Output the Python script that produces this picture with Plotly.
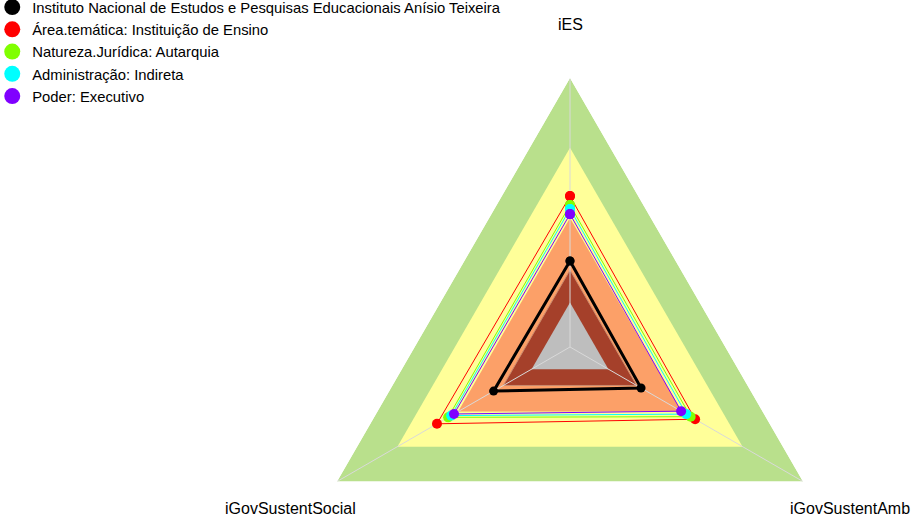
import math
import plotly.graph_objects as go

# Axes of the radar, counter-clockwise from the top
categories = ["iES", "iGovSustentSocial", "iGovSustentAmb"]

# Reference bands (outer edge of each level), from the centre outwards
band_levels = [0.165, 0.286, 0.48, 0.741, 1.0]
band_colors = ["#BEBEBE", "#A5402A", "#FCA068", "#FFFF99", "#B9E08C"]

# Series
series_names = [
    "Instituto Nacional de Estudos e Pesquisas Educacionais Anísio Teixeira",
    "Área.temática: Instituição de Ensino",
    "Natureza.Jurídica: Autarquia",
    "Administração: Indireta",
    "Poder: Executivo",
]
inep = [0.320, 0.328, 0.305]
area_tematica = [0.561, 0.571, 0.537]
natureza_juridica = [0.528, 0.523, 0.518]
administracao = [0.513, 0.510, 0.499]
poder = [0.494, 0.498, 0.477]
series_values = [inep, area_tematica, natureza_juridica, administracao, poder]
series_colors = ["#000000", "#FF0000", "#80FF00", "#00FFFF", "#8000FF"]
series_widths = [3, 1, 1, 1, 1]
series_marker = [9, 10, 10, 10, 10]

W, H = 912, 694
CX, CY, R = 570, 347, 269
LABEL_RADIUS = 1.2

fig = go.Figure()

closed_theta = categories + categories[:1]

# Filled bands, largest first
for lvl, col in sorted(zip(band_levels, band_colors), reverse=True):
    outline = dict(width=0, color=col)
    if col == "#A5402A":
        outline = dict(width=1, color="#C98A6E")
    fig.add_trace(go.Scatterpolar(
        r=[lvl] * 4, theta=closed_theta, mode="lines", fill="toself",
        fillcolor=col, line=outline, hoverinfo="skip", showlegend=False,
    ))

# Spokes from the centre to each axis end
for cat in categories:
    fig.add_trace(go.Scatterpolar(
        r=[0, max(band_levels)], theta=[cat, cat], mode="lines",
        line=dict(color="#D9D9D9", width=1), hoverinfo="skip", showlegend=False,
    ))

# Series polygons with their points
for name, vals, col, lw, ms in zip(series_names, series_values, series_colors,
                                   series_widths, series_marker):
    fig.add_trace(go.Scatterpolar(
        r=vals + vals[:1], theta=closed_theta, mode="lines+markers",
        line=dict(color=col, width=lw), marker=dict(color=col, size=ms),
        name=name, showlegend=False,
    ))

# Legend entries shown as plain dots
for name, col in zip(series_names, series_colors):
    fig.add_trace(go.Scatterpolar(
        r=[None], theta=[None], mode="markers",
        marker=dict(color=col, size=16), name=name, showlegend=True,
    ))

# Axis names placed outside the outer triangle, along each spoke
annotations = []
for i, cat in enumerate(categories):
    ang = math.radians(90 + 120 * i)
    px = CX + LABEL_RADIUS * R * math.cos(ang)
    py = CY - LABEL_RADIUS * R * math.sin(ang)
    annotations.append(dict(
        text=cat, x=px / W, y=1 - py / H, xref="paper", yref="paper",
        xanchor="center", yanchor="middle", showarrow=False,
        font=dict(family="Liberation Sans, Arial, sans-serif", size=16, color="#000000"),
    ))

fig.update_layout(
    width=W, height=H,
    margin=dict(l=0, r=0, t=0, b=0, autoexpand=False),
    paper_bgcolor="white",
    font=dict(family="Liberation Sans, Arial, sans-serif", color="#000000"),
    annotations=annotations,
    polar=dict(
        domain=dict(x=[(CX - R) / W, (CX + R) / W], y=[0, 1]),
        bgcolor="white",
        gridshape="linear",
        radialaxis=dict(range=[0, 1], visible=False, showgrid=False),
        angularaxis=dict(
            type="category", categoryarray=categories, categoryorder="array",
            rotation=90, direction="counterclockwise",
            showgrid=False, showline=False, showticklabels=False, ticks="",
        ),
    ),
    legend=dict(
        x=-0.0085, y=1 + 9 / H, xanchor="left", yanchor="top",
        font=dict(size=14.8, color="#000000"),
        bgcolor="rgba(0,0,0,0)", itemwidth=30, tracegroupgap=0,
    ),
    showlegend=True,
)

fig.write_html(
    "out.html",
    post_script=(
        "document.documentElement.style.overflow='hidden';"
        "document.body.style.overflow='hidden';"
        "document.body.style.margin='0';"
    ),
)
